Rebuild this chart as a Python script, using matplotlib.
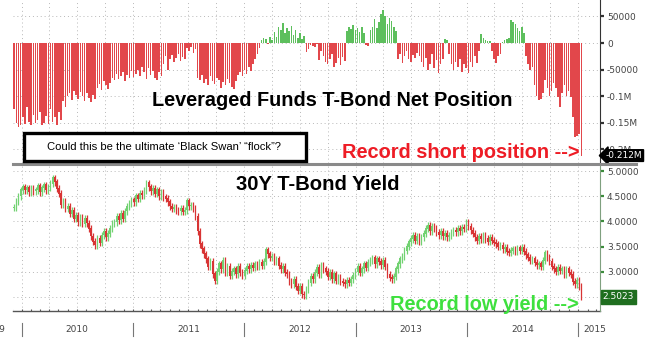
import matplotlib
matplotlib.use("Agg")
import matplotlib.pyplot as plt
import matplotlib.dates as mdates
from matplotlib.lines import Line2D
from matplotlib.patches import Rectangle
from matplotlib.ticker import FixedLocator, FixedFormatter
import numpy as np
import pandas as pd

# Leveraged funds net position, weekly, in thousands of contracts
net_position = [
    -125, -150, -158, -155, -140, -152, -120, -148, -155, -135, -150, -145, -130, -155, -150, -138, -152, -125, -148, -140,
    -155, -130, -145, -110, -120,
    -100, -95, -108, -90, -98, -105, -92, -100, -110, -95, -103, -112, -98, -106,
    -85, -78, -88, -72, -80, -86, -75,
    -65, -70, -58, -68, -62, -55, -72, -60, -66, -52, -64,
    -58, -50, -62, -45, -55, -68, -48, -60, -52, -65, -70, -55, -62,
    -40, -25, -50, -30, -22, -35, -28, -20, -33, -26, -30,
    -10, -15, -8, -18, -12,
    -65, -70, -60, -75, -68, -80, -62, -72, -78, -66, -70, -85, -74, -80, -68, -76, -82, -87, -72,
    -60, -55, -62, -50, -58, -45, -52, -40, -30, -20, -10,
    5, 10, 8, -2, 12, 6,
    20, 12, 30, 25, 38, 18, 28, 22, 32, 15, 25, 10, 18,
    8, 14,
    -17, -12, -3, -5, -8, -2, -32, -15,
    -25, -35, -40, -30, -20, -45, -38, -28, -42, -26, -33,
    22, 30, 26, 34, 24, 28, 21, 30, 18,
    -3, -5,
    25, 30, 45, 28, 40, 55, 62, 50, 35, 48, 42, 30, 22,
    -30, -20, -38, -25, -15, -30, -35, -22, -28, -18, -25,
    -35, -45, -28, -50, -40, -20, -48, -32, -57, -40, -30,
    8, 5,
    -20, -40, -50, -35, -45, -30, -55, -40, -48, -57, -35, -45, -25, -38, -15,
    17, 10, 6, 3, 4,
    -15, -30, -38, -25, -20,
    2, 5, 8, 10,
    43, 40, 35, 28, 22, 30, 19,
    -25, -40, -51, -45,
    -80, -100, -108, -105, -95,
    -70, -85, -100, -90, -75,
    -85, -102, -121, -95, -80, -100, -90, -102,
    -140, -177, -175, -172, -212,
]

# 30Y T-Bond yield, weekly closes (%)
yield_close = [
    4.27, 4.40, 4.50, 4.62, 4.68,
    4.62, 4.66, 4.58, 4.65, 4.60,
    4.62, 4.70, 4.58, 4.66, 4.72, 4.62, 4.68, 4.75,
    4.86, 4.78,
    4.65, 4.55, 4.33, 4.40, 4.25, 4.30,
    4.15, 4.22, 4.05, 4.12, 3.98, 4.08, 3.95, 4.05, 3.96,
    3.85, 3.70, 3.60, 3.53, 3.65, 3.58,
    3.72, 3.80, 3.68, 3.75, 3.85, 3.95,
    3.98, 4.10, 4.02, 4.15, 4.05, 4.20, 4.30,
    4.35, 4.42, 4.38, 4.50, 4.45, 4.55, 4.52, 4.62, 4.76,
    4.68, 4.60, 4.65, 4.55, 4.62, 4.50, 4.58, 4.48, 4.45,
    4.38, 4.30, 4.25, 4.28, 4.22, 4.20, 4.25, 4.19, 4.22,
    4.40, 4.30, 4.32, 4.25, 4.10, 3.80,
    3.55, 3.45, 3.35, 3.25, 3.10, 3.20, 2.95, 2.82,
    3.00, 3.15, 3.05, 3.22, 2.98, 3.10, 2.92,
    3.00, 3.05, 2.95, 3.10, 2.98, 2.92, 3.02, 3.10, 3.05, 3.12, 3.08, 3.15, 3.10, 3.18, 3.12, 3.20,
    3.43, 3.35, 3.28,
    3.30, 3.20, 3.25, 3.12, 3.05, 3.10, 2.98, 2.95,
    2.80, 2.75, 2.85, 2.70, 2.62, 2.70, 2.55, 2.53,
    2.65, 2.78, 2.90, 2.85, 2.98, 3.08, 2.95, 3.12, 3.05,
    3.00, 2.90, 2.98, 2.85, 2.95, 2.82, 2.88, 2.80,
    2.78, 2.75, 2.82, 2.78, 2.85, 2.92,
    3.00, 3.10, 2.98, 3.05, 3.15, 3.08,
    3.18, 3.22, 3.27, 3.15, 3.25, 3.20, 3.13, 3.22, 3.10,
    2.94, 2.88, 2.85, 2.90,
    3.05, 3.15, 3.25, 3.30, 3.42, 3.50, 3.59, 3.65,
    3.72, 3.62, 3.70, 3.60, 3.68, 3.75,
    3.85, 3.92, 3.80, 3.90, 3.85,
    3.78, 3.72, 3.80, 3.70, 3.75, 3.68, 3.72, 3.78,
    3.82, 3.78, 3.85, 3.80, 3.88, 3.85, 3.97,
    3.90, 3.82, 3.75, 3.68, 3.62, 3.70, 3.65,
    3.72, 3.65, 3.60, 3.68, 3.62,
    3.58, 3.55, 3.50, 3.52, 3.45, 3.48,
    3.40, 3.38, 3.42,
    3.45, 3.40, 3.47, 3.42, 3.48, 3.40,
    3.33, 3.28, 3.22, 3.25, 3.18, 3.13, 3.15, 3.10,
    3.22, 3.37,
    3.28, 3.20, 3.10, 3.05, 3.00,
    3.08, 3.02, 3.05, 2.95, 3.05, 2.98, 2.94,
    2.80, 2.75, 2.82, 2.70, 2.5023,
]

top_ticks = [50, 0, -50, -100, -150, -200]
top_tick_labels = ["50000", "0", "-50000", "-0.1M", "-0.15M", "-0.2M"]
bottom_ticks = [5.0, 4.5, 4.0, 3.5, 3.0, 2.5]
# the 2.5 label sits under the last-value marker
bottom_tick_labels = ["5.0000", "4.5000", "4.0000", "3.5000", "3.0000", ""]
year_labels = ["2009", "2010", "2011", "2012", "2013", "2014", "2015"]

dates = pd.date_range("2009-12-07", periods=len(net_position), freq="7D")
x = mdates.date2num(dates)
net = np.array(net_position, dtype=float)
close = np.array(yield_close)
opens = np.concatenate([[close[0]], close[:-1]])

RED = "#e2474b"
GREEN = "#5dbf5d"
GRID = "#b8b8b8"
bold_family = ["Liberation Sans Narrow", "Liberation Sans", "DejaVu Sans"]

fig = plt.figure(figsize=(6.56, 3.59), dpi=100)
ax_top = fig.add_axes([13 / 656, 1 - 163 / 359, 587 / 656, 163 / 359])
ax_bot = fig.add_axes([13 / 656, 1 - 311 / 359, 587 / 656, 145 / 359])

x_left = mdates.date2num(pd.Timestamp("2009-12-03"))
x_right = mdates.date2num(pd.Timestamp("2015-03-14"))
quarters = mdates.date2num(pd.date_range("2009-10-01", "2015-04-01", freq="QS"))

for axis in (ax_top, ax_bot):
    axis.set_xlim(x_left, x_right)
    for spine in ("top", "left", "bottom"):
        axis.spines[spine].set_visible(False)
    axis.yaxis.tick_right()
    axis.tick_params(axis="y", direction="out", length=3, width=1.6, pad=2,
                     labelsize=6.5, labelcolor="#444444")
    axis.set_xticks([])
    for q in quarters:
        axis.axvline(q, color=GRID, linestyle=(0, (1, 3)), linewidth=0.7, zorder=0)

# --- top panel: net position bars
colors = [GREEN if v >= 0 else RED for v in net]
ax_top.bar(x, net, width=5.2, color=colors, linewidth=0, zorder=2)
ax_top.set_ylim(-226, 81)
ax_top.yaxis.set_major_locator(FixedLocator(top_ticks))
ax_top.yaxis.set_major_formatter(FixedFormatter(top_tick_labels))
ax_top.spines["right"].set_color("#333333")
ax_top.tick_params(axis="y", color="#333333")
for t in top_ticks:
    ax_top.axhline(t, color=GRID, linestyle=(0, (1, 3)), linewidth=0.7, zorder=0)

ax_top.annotate(f"{net[-1] / 1000:.3f}M", xy=(1.0, net[-1]),
                xycoords=ax_top.get_yaxis_transform(), xytext=(4, 0),
                textcoords="offset points", ha="left", va="center",
                fontsize=6.5, color="white",
                bbox=dict(boxstyle="larrow,pad=0.15", fc="black", ec="black"),
                zorder=5, annotation_clip=False)

# --- bottom panel: yield candles
up = close >= opens
wick = 0.07
highs = np.maximum(opens, close) + wick
lows = np.minimum(opens, close) - wick
c_colors = np.where(up, "#72d272", "#d83434")
ax_bot.vlines(x, lows, highs, colors=c_colors, linewidth=0.9, zorder=2)
ax_bot.bar(x, np.abs(close - opens) + 0.015, bottom=np.minimum(opens, close),
           width=5.0, color=c_colors, linewidth=0, zorder=3)
ax_bot.set_ylim(2.22, 5.10)
ax_bot.yaxis.set_major_locator(FixedLocator(bottom_ticks))
ax_bot.yaxis.set_major_formatter(FixedFormatter(bottom_tick_labels))
ax_bot.spines["right"].set_color("#7fa07f")
ax_bot.tick_params(axis="y", color="#3c8c3c")
for t in bottom_ticks:
    ax_bot.axhline(t, color=GRID, linestyle=(0, (1, 3)), linewidth=0.7, zorder=0)

ax_bot.annotate(f"{close[-1]:.4f}", xy=(1.0, close[-1]),
                xycoords=ax_bot.get_yaxis_transform(), xytext=(2, 0),
                textcoords="offset points", ha="left", va="center",
                fontsize=6.5, color="white",
                bbox=dict(boxstyle="square,pad=0.25", fc="#1f6e1f", ec="#1f6e1f"),
                zorder=5, annotation_clip=False)

# bottom axis line with monthly ticks, year separators and labels
ax_bot.axhline(2.22, color="#555555", linewidth=1.0, clip_on=False)
months = mdates.date2num(pd.date_range("2009-12-01", "2015-03-01", freq="MS"))
ax_bot.vlines(months, 2.22, 2.26, colors="#555555", linewidth=0.8)
xform = ax_bot.get_xaxis_transform()
years = [pd.Timestamp(f"{y}-01-01") for y in year_labels]
for label, start in zip(year_labels, years):
    xs = mdates.date2num(start)
    ax_bot.plot([xs, xs], [-0.085, -0.175], transform=xform, color="#777777",
                linewidth=0.8, clip_on=False)
    mid = mdates.date2num(start + pd.Timedelta(days=182))
    if label == "2009":
        fig.text(5 / 656, 1 - 330 / 359, label, ha="right", va="center",
                 fontsize=6.5, color="#444444")
    elif label == "2015":
        ax_bot.text(xs + 18, -0.13, label, transform=xform, ha="left",
                    va="center", fontsize=6.5, color="#444444")
    else:
        ax_bot.text(mid, -0.13, label, transform=xform, ha="center",
                    va="center", fontsize=6.5, color="#444444")

# separator between panels
fig.add_artist(Line2D([13 / 656, 636 / 656], [1 - 164 / 359] * 2,
                      color="#8a8a8a", linewidth=2.2))

# titles and notes
fig.text(332 / 656, 1 - 101 / 359, "Leveraged Funds T-Bond Net Position",
         ha="center", va="center", fontsize=14.3, fontweight="bold",
         family=bold_family, color="black")
fig.text(318 / 656, 1 - 185 / 359, "30Y T-Bond Yield", ha="center",
         va="center", fontsize=14.6, fontweight="bold", family=bold_family,
         color="black")
fig.text(461 / 656, 1 - 153 / 359, "Record short position -->",
         ha="center", va="center", fontsize=14.4, fontweight="bold",
         family=bold_family, color="#ee1c25")
fig.text(484 / 656, 1 - 305 / 359, "Record low yield -->", ha="center",
         va="center", fontsize=14.4, fontweight="bold", family=bold_family,
         color="#3ee03e")

# note box
fig.add_artist(Rectangle((24 / 656, 1 - 161 / 359), 282 / 656, 28 / 359,
                         transform=fig.transFigure, facecolor="white",
                         edgecolor="black", linewidth=2.4, zorder=6))
fig.text(164 / 656, 1 - 147 / 359,
         "Could this be the ultimate \u2018Black Swan\u2019 \u201cflock\u201d?",
         ha="center", va="center", fontsize=8.1, color="black",
         family=["Liberation Sans", "DejaVu Sans"], zorder=7)

fig.savefig("out.png", dpi=100)
